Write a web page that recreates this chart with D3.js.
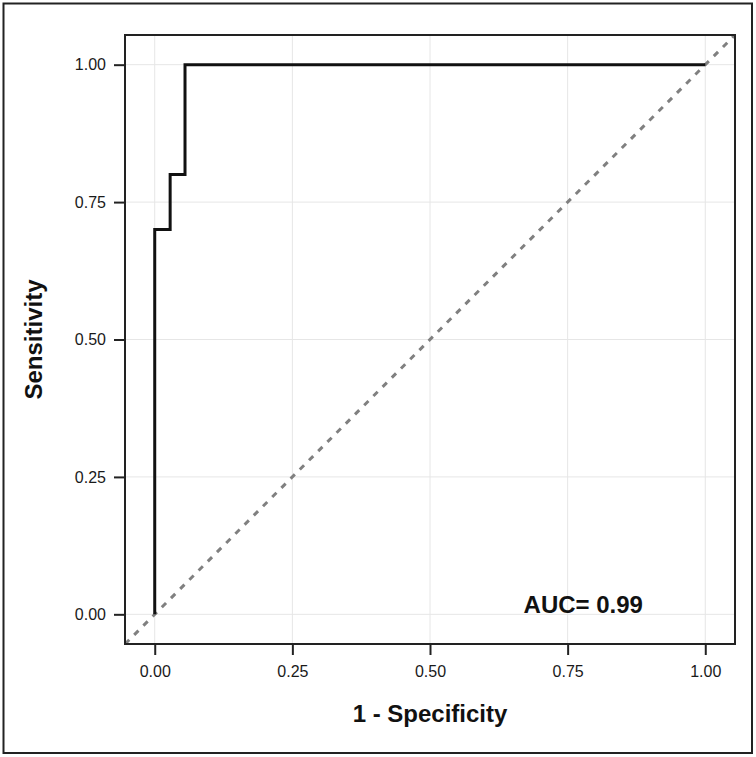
<!DOCTYPE html>
<html>
<head>
<meta charset="utf-8">
<script src="https://cdn.jsdelivr.net/npm/d3@7"></script>
<style>
  html, body { margin: 0; padding: 0; background: #fff; }
  svg { display: block; }
</style>
</head>
<body>
<svg id="chart" width="756" height="757"></svg>
<script>
// ---- data ----
const fpr = [0, 0, 0.028, 0.028, 0.055, 0.055, 1];
const tpr = [0, 0.7, 0.7, 0.8, 0.8, 1, 1];
const xTicks = [0, 0.25, 0.5, 0.75, 1];
const yTicks = [0, 0.25, 0.5, 0.75, 1];
const xTickLabels = ["0.00", "0.25", "0.50", "0.75", "1.00"];
const yTickLabels = ["0.00", "0.25", "0.50", "0.75", "1.00"];
const xTitle = "1 - Specificity";
const yTitle = "Sensitivity";
const aucLabel = "AUC= 0.99";
const aucPos = [0.67, 0.0];
const domainLim = [-0.054, 1.054];

// ---- layout ----
const svg = d3.select("#chart");
const panel = { left: 125, right: 735, top: 35, bottom: 644 };

const x = d3.scaleLinear().domain(domainLim).range([panel.left, panel.right]);
const y = d3.scaleLinear().domain(domainLim).range([panel.bottom, panel.top]);

// outer border
svg.append("rect")
  .attr("x", 3.5).attr("y", 3.5)
  .attr("width", 748.5).attr("height", 749.5)
  .attr("fill", "#fff").attr("stroke", "#222").attr("stroke-width", 2);

// clip for panel
svg.append("defs").append("clipPath").attr("id", "clip")
  .append("rect")
  .attr("x", panel.left).attr("y", panel.top)
  .attr("width", panel.right - panel.left).attr("height", panel.bottom - panel.top);

const g = svg.append("g");

// grid
g.selectAll(".gx").data(xTicks).enter().append("line")
  .attr("x1", d => x(d)).attr("x2", d => x(d))
  .attr("y1", panel.top).attr("y2", panel.bottom)
  .attr("stroke", "#e6e6e6").attr("stroke-width", 1);
g.selectAll(".gy").data(yTicks).enter().append("line")
  .attr("y1", d => y(d)).attr("y2", d => y(d))
  .attr("x1", panel.left).attr("x2", panel.right)
  .attr("stroke", "#e6e6e6").attr("stroke-width", 1);

// diagonal reference line (abline through full panel)
g.append("line")
  .attr("clip-path", "url(#clip)")
  .attr("x1", x(domainLim[0])).attr("y1", y(domainLim[0]))
  .attr("x2", x(domainLim[1])).attr("y2", y(domainLim[1]))
  .attr("stroke", "#808080").attr("stroke-width", 3)
  .attr("stroke-dasharray", "6,7");

// ROC curve
const line = d3.line().x((d, i) => x(fpr[i])).y((d, i) => y(tpr[i]));
g.append("path")
  .datum(fpr)
  .attr("d", line)
  .attr("fill", "none")
  .attr("stroke", "#111")
  .attr("stroke-width", 3)
  .attr("stroke-linejoin", "miter")
  .attr("stroke-linecap", "butt");

// AUC annotation
g.append("text")
  .attr("x", x(aucPos[0]))
  .attr("y", y(aucPos[1]) - 1)
  .attr("font-family", "Liberation Sans, Arial, sans-serif")
  .attr("font-size", 24)
  .attr("font-weight", "bold")
  .attr("fill", "#111")
  .text(aucLabel);

// panel border
svg.append("rect")
  .attr("x", panel.left).attr("y", panel.top)
  .attr("width", panel.right - panel.left).attr("height", panel.bottom - panel.top)
  .attr("fill", "none").attr("stroke", "#222").attr("stroke-width", 2);

// x axis
const xAxis = d3.axisBottom(x)
  .tickValues(xTicks)
  .tickFormat((d, i) => xTickLabels[i])
  .tickSize(11)
  .tickPadding(11);
const gx = svg.append("g")
  .attr("transform", `translate(0,${panel.bottom})`)
  .call(xAxis);
gx.select(".domain").remove();
gx.selectAll(".tick line").attr("stroke", "#222").attr("stroke-width", 2);
gx.selectAll(".tick text")
  .attr("font-family", "Liberation Sans, Arial, sans-serif")
  .attr("font-size", 16)
  .attr("fill", "#1a1a1a");

// y axis
const yAxis = d3.axisLeft(y)
  .tickValues(yTicks)
  .tickFormat((d, i) => yTickLabels[i])
  .tickSize(11)
  .tickPadding(8);
const gy = svg.append("g")
  .attr("transform", `translate(${panel.left},0)`)
  .call(yAxis);
gy.select(".domain").remove();
gy.selectAll(".tick line").attr("stroke", "#222").attr("stroke-width", 2);
gy.selectAll(".tick text")
  .attr("font-family", "Liberation Sans, Arial, sans-serif")
  .attr("font-size", 16)
  .attr("fill", "#1a1a1a");

// axis titles
svg.append("text")
  .attr("x", (panel.left + panel.right) / 2)
  .attr("y", 722)
  .attr("text-anchor", "middle")
  .attr("font-family", "Liberation Sans, Arial, sans-serif")
  .attr("font-size", 24)
  .attr("font-weight", "bold")
  .attr("fill", "#111")
  .text(xTitle);

svg.append("text")
  .attr("transform", `translate(42,${(panel.top + panel.bottom) / 2}) rotate(-90)`)
  .attr("text-anchor", "middle")
  .attr("font-family", "Liberation Sans, Arial, sans-serif")
  .attr("font-size", 24)
  .attr("font-weight", "bold")
  .attr("fill", "#111")
  .text(yTitle);
</script>
</body>
</html>
